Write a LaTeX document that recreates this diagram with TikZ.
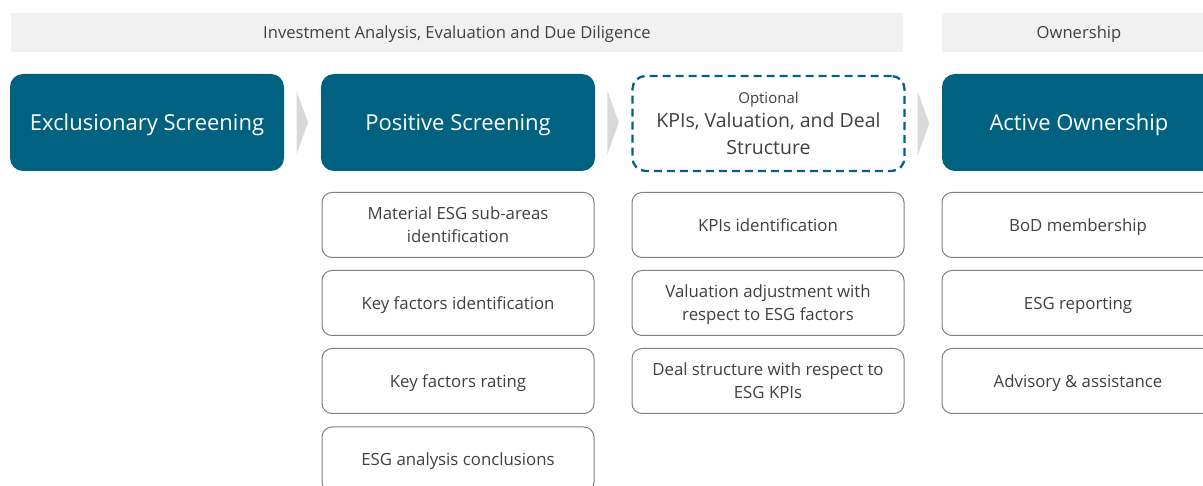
\documentclass[tikz,border=0pt]{standalone}
\usepackage{fontspec}
\setmainfont{Open Sans}
\usetikzlibrary{calc}
\definecolor{teal}{RGB}{0,98,128}
\definecolor{bandgray}{RGB}{241,241,241}
\definecolor{chevgray}{RGB}{217,217,217}
\definecolor{boxline}{RGB}{128,128,128}
\definecolor{txt}{RGB}{64,64,64}
\tikzset{
  band/.style={fill=bandgray, draw=none, inner sep=0pt, minimum height=39pt,
    text=txt, text depth=0pt, font=\fontsize{16.6}{19}\selectfont},
  phase/.style={fill=teal, draw=none, rounded corners=13pt, inner sep=0pt,
    minimum width=274pt, minimum height=97pt, text=white, align=center,
    text depth=0pt, font=\fontsize{22}{27}\selectfont},
  optbox/.style={draw=teal, line width=2.3pt, dash pattern=on 8pt off 5pt,
    rounded corners=13pt, inner sep=0pt, minimum width=272pt, minimum height=95pt,
    text=txt, align=center, font=\fontsize{19.5}{27}\selectfont},
  item/.style={draw=boxline, line width=1pt, fill=white, rounded corners=10pt,
    inner sep=0pt, minimum width=272pt, minimum height=65pt, text=txt,
    align=center, text depth=0pt, font=\fontsize{16.8}{23}\selectfont},
  chev/.style={fill=chevgray, draw=none},
}
\begin{document}
\begin{tikzpicture}[x=1pt, y=-1pt]
  \useasboundingbox (0,0) rectangle (1203,486);
  \clip (0,0) rectangle (1203,486);

  % stage headings
  \node[band, minimum width=892pt] (hdA) at (457,32.5) {Investment Analysis, Evaluation and Due Diligence};
  \node[band, minimum width=274pt] (hdB) at (1079,32.5) {Ownership};

  % process phases
  \node[phase] (ex) at (147,122.5) {Exclusionary Screening};
  \node[phase] (pos) at (458,122.5) {Positive Screening};
  \node[optbox] (opt) at (768.5,123.5) {{\fontsize{15}{17}\selectfont Optional}\\[-3pt]
    KPIs, Valuation, and Deal\\
    Structure};
  \node[phase] (act) at (1079,122.5) {Active Ownership};

  % chevrons between phases
  \foreach \a/\b in {ex/pos, pos/opt, opt/act}{
    \path let \p1=(\a.east), \p2=(\b.west), \p3=(\a.center) in
      coordinate (c) at ({(\x1+\x2)/2}, \y3);
    \fill[chev] ($(c)+(-6,-32)$) -- ($(c)+(5.5,0)$) -- ($(c)+(-6,32)$) -- cycle;
  }

  % positive screening steps
  \node[item] (p1) at (458,225) {Material ESG sub-areas\\identification};
  \node[item] (p2) at (458,303) {Key factors identification};
  \node[item] (p3) at (458,381) {Key factors rating};
  \node[item] (p4) at (458,459.5) {ESG analysis conclusions};

  % KPI / valuation / deal structure steps
  \node[item] (k1) at (768,225) {KPIs identification};
  \node[item] (k2) at (768,303) {Valuation adjustment with\\respect to ESG factors};
  \node[item] (k3) at (768,381) {Deal structure with respect to\\ESG KPIs};

  % ownership steps
  \node[item] (o1) at (1078,225) {BoD membership};
  \node[item] (o2) at (1078,303) {ESG reporting};
  \node[item] (o3) at (1078,381) {Advisory \& assistance};
\end{tikzpicture}
\end{document}
